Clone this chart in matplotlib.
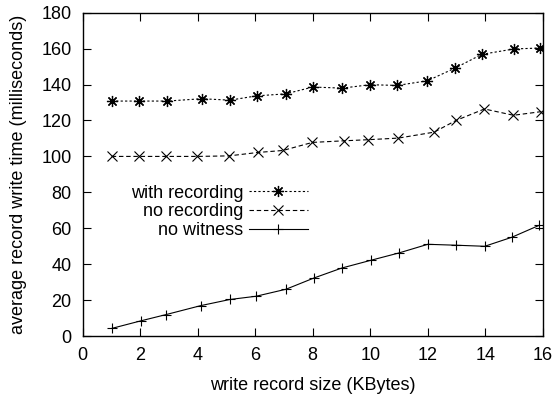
import matplotlib
matplotlib.use("Agg")
import matplotlib.pyplot as plt

plt.rcParams['font.family'] = ['Liberation Sans', 'DejaVu Sans']
plt.rcParams['font.size'] = 13

# write record size (KBytes) as measured, per series
x_rec = [1.01, 1.96, 2.94, 4.14, 5.12, 6.05, 7.06, 8.0, 9.03, 9.99, 10.94, 11.99, 12.93, 13.88, 15.0, 15.9]
y_rec = [130.8, 130.8, 130.8, 132.1, 131.3, 133.7, 134.8, 138.6, 138.0, 139.9, 139.5, 142.1, 149.0, 156.8, 159.8, 160.3]

x_norec = [1.01, 1.96, 2.89, 3.99, 5.09, 6.09, 6.96, 7.99, 9.10, 9.93, 10.98, 12.22, 12.98, 13.97, 14.98, 15.94]
y_norec = [100.0, 100.0, 100.0, 100.0, 100.3, 102.2, 103.3, 107.8, 108.7, 109.3, 110.2, 113.5, 120.0, 126.4, 122.9, 124.9]

x_now = [1.01, 2.02, 2.90, 4.11, 5.12, 6.03, 7.07, 8.05, 9.01, 10.02, 11.0, 12.0, 12.97, 13.98, 14.92, 15.88]
y_now = [4.3, 8.5, 12.0, 17.0, 20.4, 22.2, 26.1, 32.4, 37.9, 42.2, 46.3, 51.1, 50.6, 50.0, 55.0, 61.7]

labels = ['with recording', 'no recording', 'no witness']

fig = plt.figure(figsize=(5.55, 3.95), dpi=100)
ax = fig.add_axes([0.149, 0.149, 0.829, 0.819])

ax.plot(x_rec, y_rec, color='black', lw=0.8, dashes=(2, 2),
        marker=(8, 2, 0), ms=8, mew=0.9, label=labels[0])
ax.plot(x_norec, y_norec, color='black', lw=0.8, dashes=(4, 2.5),
        marker='x', ms=7, mew=0.8, label=labels[1])
ax.plot(x_now, y_now, color='black', lw=0.8,
        marker='+', ms=7, mew=0.8, label=labels[2])

ax.set_xlim(0, 16)
ax.set_ylim(0, 180)
ax.set_xticks(range(0, 17, 2))
ax.set_yticks(range(0, 181, 20))
ax.tick_params(direction='in', top=True, right=True, length=6, width=0.8)
ax.tick_params(axis='x', pad=8)
ax.tick_params(axis='y', pad=8)
for s in ax.spines.values():
    s.set_linewidth(1.0)

ax.set_xlabel('write record size (KBytes)', labelpad=9)
ax.set_ylabel('average record write time (milliseconds)', labelpad=10)

ax.legend(loc='center right', bbox_to_anchor=(0.49, 0.384), frameon=False,
          markerfirst=False, handlelength=3.3, handletextpad=0.3,
          labelspacing=0.1, borderpad=0, borderaxespad=0)

fig.savefig('out.png', dpi=100)
